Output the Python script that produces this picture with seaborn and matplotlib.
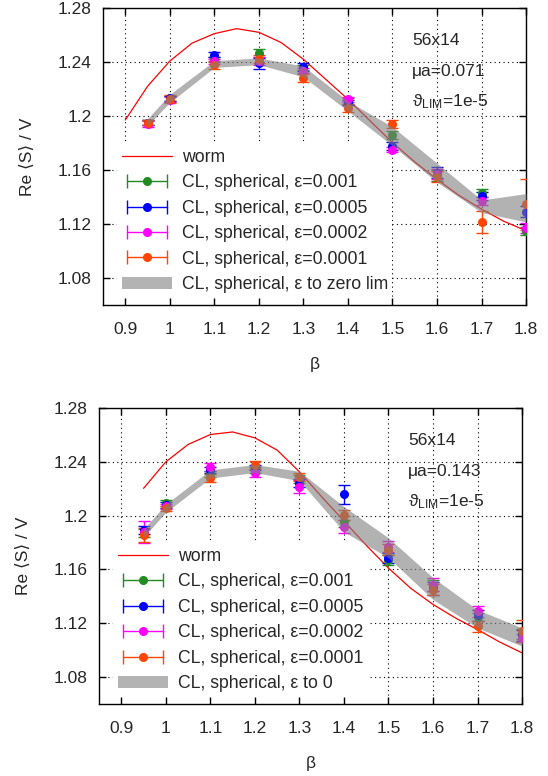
import numpy as np
import seaborn as sns
import matplotlib.pyplot as plt
from matplotlib.lines import Line2D
from matplotlib.patches import Patch
from matplotlib.legend_handler import HandlerTuple, HandlerLine2D

# ---- data ----
beta_pts = [0.95, 1.0, 1.1, 1.2, 1.3, 1.4, 1.5, 1.6, 1.7, 1.8]

# top panel: mu a = 0.071
worm_beta_top = [0.9, 0.95, 1.0, 1.05, 1.1, 1.15, 1.2, 1.25, 1.3, 1.35,
                 1.4, 1.45, 1.5, 1.55, 1.6, 1.65, 1.7, 1.75, 1.8]
worm_top = [1.197, 1.222, 1.2407, 1.254, 1.261, 1.2647, 1.262, 1.2544, 1.242, 1.2272,
            1.2124, 1.1963, 1.1803, 1.166, 1.153, 1.141, 1.131, 1.122, 1.115]
eps001_top = [1.195, 1.213, 1.242, 1.2465, 1.236, 1.211, 1.186, 1.156, 1.143, 1.115]
eps001_top_err = [0.002, 0.002, 0.002, 0.003, 0.002, 0.002, 0.003, 0.004, 0.003, 0.003]
eps0005_top = [1.195, 1.213, 1.2455, 1.239, 1.236, 1.210, 1.178, 1.158, 1.141, 1.129]
eps0005_top_err = [0.002, 0.002, 0.002, 0.004, 0.003, 0.002, 0.003, 0.004, 0.003, 0.004]
eps0002_top = [1.194, 1.212, 1.2405, 1.241, 1.2335, 1.2124, 1.175, 1.157, 1.137, 1.117]
eps0002_top_err = [0.002, 0.002, 0.002, 0.003, 0.002, 0.002, 0.002, 0.004, 0.003, 0.004]
eps0001_top = [1.195, 1.2125, 1.238, 1.242, 1.2284, 1.2062, 1.194, 1.155, 1.1215, 1.1346]
eps0001_top_err = [0.002, 0.003, 0.003, 0.003, 0.003, 0.003, 0.003, 0.004, 0.008, 0.019]
band_top_lo = [1.193, 1.210, 1.236, 1.238, 1.229, 1.2037, 1.178, 1.151, 1.1285, 1.1215]
band_top_hi = [1.198, 1.216, 1.241, 1.243, 1.237, 1.211, 1.192, 1.165, 1.1378, 1.1425]

# bottom panel: mu a = 0.143
worm_beta_bot = [0.95, 1.0, 1.05, 1.1, 1.15, 1.2, 1.25, 1.3, 1.35,
                 1.4, 1.45, 1.5, 1.55, 1.6, 1.65, 1.7, 1.75, 1.8]
worm_bot = [1.2203, 1.240, 1.2529, 1.2603, 1.2622, 1.2578, 1.2487, 1.2326, 1.214,
            1.196, 1.178, 1.161, 1.146, 1.134, 1.124, 1.1153, 1.106, 1.098]
eps001_bot = [1.187, 1.2095, 1.231, 1.234, 1.227, 1.1956, 1.167, 1.148, 1.125, 1.112]
eps001_bot_err = [0.003, 0.002, 0.002, 0.002, 0.003, 0.004, 0.004, 0.004, 0.003, 0.004]
eps0005_bot = [1.1895, 1.208, 1.234, 1.236, 1.224, 1.216, 1.1685, 1.146, 1.126, 1.111]
eps0005_bot_err = [0.003, 0.002, 0.002, 0.002, 0.003, 0.007, 0.004, 0.005, 0.004, 0.004]
eps0002_bot = [1.188, 1.207, 1.2363, 1.2314, 1.2215, 1.1919, 1.177, 1.1487, 1.1289, 1.1092]
eps0002_bot_err = [0.008, 0.002, 0.003, 0.003, 0.005, 0.005, 0.004, 0.005, 0.004, 0.003]
eps0001_bot = [1.1857, 1.2055, 1.2277, 1.2376, 1.2289, 1.2005, 1.1746, 1.145, 1.1178, 1.1141]
eps0001_bot_err = [0.005, 0.002, 0.003, 0.003, 0.003, 0.004, 0.004, 0.004, 0.004, 0.008]
band_bot_lo = [1.184, 1.2025, 1.228, 1.232, 1.226, 1.188, 1.1687, 1.1376, 1.1166, 1.103]
band_bot_hi = [1.190, 1.2085, 1.234, 1.238, 1.233, 1.2067, 1.1835, 1.1539, 1.130, 1.1166]

eps_labels = ['CL, spherical, ε=0.001', 'CL, spherical, ε=0.0005',
              'CL, spherical, ε=0.0002', 'CL, spherical, ε=0.0001']
eps_colors = ['#228b22', '#0000ff', '#ff00ff', '#ff4500']

x_ticks = [0.9, 1.0, 1.1, 1.2, 1.3, 1.4, 1.5, 1.6, 1.7, 1.8]
x_ticklabels = ['0.9', '1', '1.1', '1.2', '1.3', '1.4', '1.5', '1.6', '1.7', '1.8']
y_ticks = [1.08, 1.12, 1.16, 1.2, 1.24, 1.28]
y_ticklabels = ['1.08', '1.12', '1.16', '1.2', '1.24', '1.28']

sns.set_style('ticks')
plt.rcParams['font.family'] = ['Liberation Sans', 'DejaVu Sans']
plt.rcParams['font.size'] = 12.5
plt.rcParams['mathtext.default'] = 'regular'

FS = 12.5


def draw_panel(ax, worm_beta, worm, series, band_lo, band_hi, mu_text, band_label):
    ax.set_axisbelow(True)
    sns.lineplot(x=worm_beta, y=worm, ax=ax, color='#ff0000', linewidth=0.9,
                 zorder=2, legend=False)
    for (vals, errs), c in zip(series, eps_colors):
        ax.errorbar(beta_pts, vals, yerr=errs, fmt='o', color=c, markersize=5.5,
                    elinewidth=1.0, capsize=4, capthick=1.0, zorder=3)
    # band is drawn over the points, semi-transparent
    ax.fill_between(beta_pts, band_lo, band_hi, color='#808080', alpha=0.6,
                    linewidth=0, zorder=4)

    ax.set_xlim(0.85, 1.8)
    ax.set_ylim(1.06, 1.28)
    ax.set_xticks(x_ticks)
    ax.set_xticklabels(x_ticklabels)
    ax.set_yticks(y_ticks)
    ax.set_yticklabels(y_ticklabels)
    ax.tick_params(direction='in', length=5, width=1, top=True, right=True,
                   labelsize=FS, color='black')
    ax.tick_params(axis='x', pad=12)
    ax.tick_params(axis='y', pad=8)
    for s in ax.spines.values():
        s.set_linewidth(1.0)
        s.set_color('black')
    ax.grid(True, color='black', linestyle=(0, (1, 3)), linewidth=0.8)

    ax.set_xlabel('β', fontsize=FS)
    ax.set_ylabel('Re ⟨S⟩ / V', fontsize=FS)
    ax.xaxis.set_label_coords(0.5, -0.175)
    ax.yaxis.set_label_coords(-0.16, 0.5)

    ax.text(0.73, 0.89, '56x14', transform=ax.transAxes, va='center', fontsize=FS)
    ax.text(0.73, 0.787, mu_text, transform=ax.transAxes, va='center', fontsize=FS)
    ax.text(0.73, 0.684, 'ϑ$_{LIM}$=1e-5', transform=ax.transAxes, va='center', fontsize=FS)

    handles = [Line2D([], [], color='#ff0000', linewidth=0.9)]
    hmap = {}
    for c in eps_colors:
        caps = Line2D([], [], color=c, linewidth=1.0, marker='|', markersize=10,
                      markeredgewidth=1.0)
        dot = Line2D([], [], color=c, marker='o', markersize=5.5, linestyle='none')
        hmap[caps] = HandlerLine2D(numpoints=2)
        handles.append((caps, dot))
    handles.append(Patch(facecolor='#b3b3b3', edgecolor='none'))
    hmap[tuple] = HandlerTuple(ndivide=1)
    labels = ['worm'] + eps_labels + [band_label]
    leg = ax.legend(handles, labels, handler_map=hmap, loc='lower left',
                    bbox_to_anchor=(0.034, 0.025), borderaxespad=0, frameon=True,
                    fancybox=False, framealpha=1, facecolor='white', edgecolor='none',
                    fontsize=12.7, handlelength=2.85, handletextpad=0.55,
                    labelspacing=0.48, borderpad=0.25)
    leg.set_zorder(1)


fig = plt.figure(figsize=(5.48, 7.76), dpi=100)
ax_top = fig.add_axes([0.188, 0.607, 0.772, 0.3827])
ax_bot = fig.add_axes([0.1807, 0.0928, 0.772, 0.3814])

draw_panel(ax_top, worm_beta_top, worm_top,
           [(eps001_top, eps001_top_err), (eps0005_top, eps0005_top_err),
            (eps0002_top, eps0002_top_err), (eps0001_top, eps0001_top_err)],
           band_top_lo, band_top_hi, 'μa=0.071', 'CL, spherical, ε to zero lim')
draw_panel(ax_bot, worm_beta_bot, worm_bot,
           [(eps001_bot, eps001_bot_err), (eps0005_bot, eps0005_bot_err),
            (eps0002_bot, eps0002_bot_err), (eps0001_bot, eps0001_bot_err)],
           band_bot_lo, band_bot_hi, 'μa=0.143', 'CL, spherical, ε to 0')

fig.savefig('out.png', dpi=100)
